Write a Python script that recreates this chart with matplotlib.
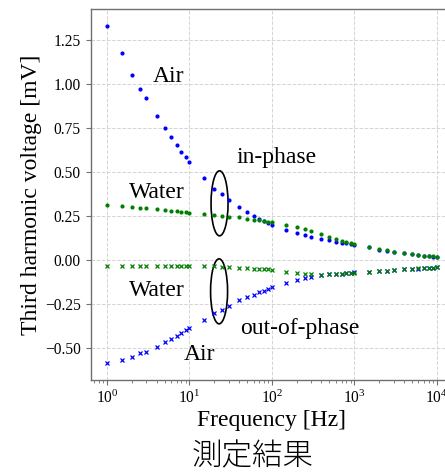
import numpy as np
import matplotlib
matplotlib.use("Agg")
import matplotlib.pyplot as plt
from matplotlib.patches import Ellipse
from matplotlib.transforms import ScaledTranslation

plt.rcParams['font.family'] = ['Liberation Serif', 'DejaVu Serif']
plt.rcParams['mathtext.fontset'] = 'stix'

freq = [1, 1.5, 2, 2.5, 3, 4, 5, 6, 7, 8, 9,
        10, 15, 20, 25, 30, 40, 50, 60, 70, 80, 90,
        100, 150, 200, 250, 300, 400, 500, 600, 700, 800, 900,
        1000, 1500, 2000, 2500, 3000, 4000, 5000, 6000, 7000, 8000, 9000,
        10000]

air_in = [1.329, 1.175, 1.052, 0.973, 0.918, 0.820, 0.750, 0.700, 0.654, 0.615, 0.584,
          0.560, 0.465, 0.403, 0.374, 0.342, 0.302, 0.272, 0.253, 0.236, 0.221, 0.210,
          0.202, 0.171, 0.155, 0.142, 0.133, 0.121, 0.114, 0.105, 0.099, 0.097, 0.093,
          0.087, 0.075, 0.060, 0.052, 0.045, 0.039, 0.033, 0.029, 0.024, 0.022, 0.020,
          0.017]

water_in = [0.314, 0.308, 0.300, 0.297, 0.296, 0.289, 0.285, 0.281, 0.278, 0.276, 0.273,
            0.270, 0.263, 0.257, 0.253, 0.248, 0.244, 0.235, 0.229, 0.226, 0.221, 0.217,
            0.215, 0.200, 0.188, 0.175, 0.167, 0.148, 0.133, 0.121, 0.112, 0.104, 0.098,
            0.093, 0.078, 0.064, 0.056, 0.049, 0.042, 0.036, 0.031, 0.026, 0.024, 0.022,
            0.019]

air_out = [-0.583, -0.564, -0.547, -0.528, -0.519, -0.489, -0.466, -0.445, -0.427, -0.411, -0.397,
           -0.383, -0.336, -0.297, -0.280, -0.259, -0.227, -0.210, -0.195, -0.182, -0.172, -0.163,
           -0.154, -0.129, -0.112, -0.103, -0.095, -0.086, -0.080, -0.078, -0.076, -0.073, -0.071,
           -0.067, -0.065, -0.061, -0.058, -0.056, -0.052, -0.049, -0.047, -0.043, -0.042, -0.041,
           -0.040]

water_out = [-0.032, -0.031, -0.032, -0.032, -0.032, -0.033, -0.033, -0.033, -0.034, -0.034, -0.034,
             -0.035, -0.035, -0.035, -0.037, -0.038, -0.042, -0.043, -0.048, -0.051, -0.052, -0.052,
             -0.053, -0.066, -0.074, -0.077, -0.080, -0.083, -0.079, -0.077, -0.075, -0.073, -0.071,
             -0.070, -0.065, -0.061, -0.058, -0.056, -0.052, -0.049, -0.046, -0.043, -0.042, -0.041,
             -0.040]

fig = plt.figure(figsize=(4.45, 4.72), dpi=100)
ax = fig.add_axes([90.5 / 445, 92 / 472, 362.7 / 445, 371 / 472])

ax.plot(freq, air_in, 'o', color='blue', ms=3.0, mew=0)
ax.plot(freq, water_in, 'o', color='green', ms=3.0, mew=0)
ax.plot(freq, air_out, 'x', color='blue', ms=3.2, mew=0.9)
ax.plot(freq, water_out, 'x', color='green', ms=3.2, mew=0.9)

ax.set_xscale('log')
ax.set_yticks([-0.5, -0.25, 0, 0.25, 0.5, 0.75, 1.0, 1.25])
ax.grid(True, which='major', linestyle='--', color='#d4d4d4', linewidth=0.7)
ax.set_axisbelow(True)
for s in ax.spines.values():
    s.set_color('#707070')
    s.set_linewidth(1.0)
ax.tick_params(which='both', colors='#707070', labelcolor='black', labelsize=11.2)

ax.set_xlabel('Frequency [Hz]', fontsize=17, labelpad=2)
ax.set_ylabel('Third harmonic voltage [mV]', fontsize=17, labelpad=2)

ax.text(3.62, 1.011, 'Air', fontsize=17)
ax.text(37.1, 0.551, 'in-phase', fontsize=17)
ax.text(1.865, 0.353, 'Water', fontsize=17)
ax.text(1.865, -0.205, 'Water', fontsize=17)
ax.text(41.1, -0.417, 'out-of-phase', fontsize=17)
ax.text(8.43, -0.568, 'Air', fontsize=17)

for cx, cy in [(23.2, 0.323), (22.9, -0.176)]:
    tr = fig.dpi_scale_trans + ScaledTranslation(cx, cy, ax.transData)
    ax.add_patch(Ellipse((0, 0), 0.17, 0.65, transform=tr, fill=False,
                         edgecolor='black', linewidth=1.2, clip_on=False))

fig.text(252.5 / 445, 16 / 472, '測定結果', ha='center', va='center', fontsize=22,
         family=['Noto Sans CJK JP', 'DejaVu Sans'], weight='light')

fig.savefig('out.png', dpi=100)
